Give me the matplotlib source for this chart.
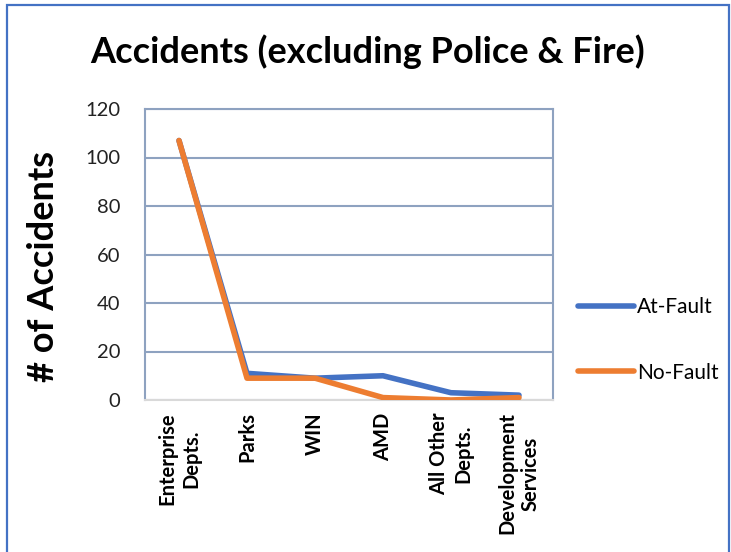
import matplotlib
matplotlib.use("Agg")
import matplotlib.pyplot as plt
from matplotlib.patches import Rectangle

categories = ["Enterprise\nDepts.", "Parks", "WIN", "AMD", "All Other\nDepts.", "Development\nServices"]
at_fault = [107, 11, 9, 10, 3, 2]
no_fault = [107, 9, 9, 1, 0, 1]
yticks = [0, 20, 40, 60, 80, 100, 120]

plt.rcParams['font.family'] = ['Lato', 'DejaVu Sans']

fig = plt.figure(figsize=(7.31, 5.52), dpi=100)
ax = fig.add_axes([145/731, 1-400/552, 408/731, 291/552])

x = list(range(len(categories)))
grid_c = '#8EA2C0'
ax.plot(x, at_fault, color='#4472C4', lw=4.0, solid_capstyle='round', solid_joinstyle='round', label='At-Fault', zorder=3)
ax.plot(x, no_fault, color='#ED7D31', lw=4.0, solid_capstyle='round', solid_joinstyle='round', label='No-Fault', zorder=4)

ax.set_xlim(-0.5, len(categories) - 0.5)
ax.set_ylim(0, 120)
ax.set_yticks(yticks)
ax.set_yticklabels([str(v) for v in yticks], fontsize=14.5, color='#222222')
ax.yaxis.grid(True, color=grid_c, lw=1.5)
ax.set_axisbelow(True)
ax.tick_params(axis='both', length=0)
ax.tick_params(axis='y', pad=18)
ax.set_xticks(x)
ax.set_xticklabels(categories, rotation=90, fontsize=14.5, fontweight='bold', va='top', ha='center', linespacing=1.25)
ax.tick_params(axis='x', pad=9)
for s in ['left', 'right', 'top']:
    ax.spines[s].set_color(grid_c)
    ax.spines[s].set_linewidth(1.5)
ax.spines['bottom'].set_color('#D9D9D9')
ax.spines['bottom'].set_linewidth(1.5)

ax.set_ylabel('# of Accidents', fontsize=26, fontweight='bold')
ax.yaxis.set_label_coords(-0.208, 0.46)

fig.text(368/731, 1-52/552, 'Accidents (excluding Police & Fire)', fontsize=26, fontweight='bold',
         ha='center', va='center')

ax.legend(loc='center left', bbox_to_anchor=(1.0, 0.207), frameon=False, fontsize=15,
          handlelength=2.7, labelspacing=2.2, handletextpad=0.15, borderaxespad=0.8)

fig.patches.append(Rectangle((7/731, -0.05), 722/731, 1-5/552+0.05, transform=fig.transFigure,
                             fill=False, edgecolor='#4472C4', lw=1.6))

fig.savefig('out.png', dpi=100)
